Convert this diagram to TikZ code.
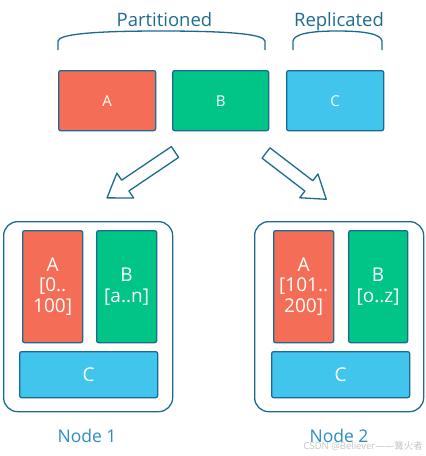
\documentclass[tikz,border=0pt]{standalone}
\usepackage{fontspec}
\setmainfont{Open Sans}
\newfontfamily\cjkfont{Noto Sans CJK SC}
\definecolor{cred}{HTML}{F46D56}
\definecolor{cgreen}{HTML}{00C587}
\definecolor{cblue}{HTML}{41C5EC}
\definecolor{cline}{HTML}{1A6B94}
\definecolor{ctitle}{HTML}{1E6C94}
\definecolor{cnode}{HTML}{2D8CC6}
\begin{document}
\begin{tikzpicture}[x=1pt,y=-1pt,
  part/.style={draw=cline, line width=1.3pt, rounded corners=2pt, anchor=north west,
    inner sep=0pt, text=white, align=center},
  toplbl/.style={font=\fontsize{15}{18}\selectfont},
  inlbl/.style={font=\fontsize{19}{20.5}\selectfont},
  nodebox/.style={draw=cline, line width=1.3pt, rounded corners=14pt, anchor=north west, inner sep=0pt},
  title/.style={text=ctitle, anchor=base, font=\fontsize{18.5}{20}\selectfont, inner sep=0pt},
  nodelbl/.style={text=cnode, anchor=base, font=\fontsize{17.5}{20}\selectfont, inner sep=0pt},
  brace/.style={draw=cline, line width=1.3pt},
  blockarrow/.style={draw=cline, line width=1.3pt, line join=round, fill=white}]
\useasboundingbox (0,0) rectangle (426,456);
\fill[white] (0,0) rectangle (426,456);

% titles
\node[title] (tpart) at (164.5,26) {Partitioned};
\node[title] (trepl) at (339,26) {Replicated};
% braces
\draw[brace] (58,50) -- (58,41) .. controls (59,34) and (95,31) .. (161,31)
  .. controls (228,31) and (264,34) .. (265,41) -- (265,50);
\draw[brace] (293,50) -- (293,41) .. controls (294,34) and (310,31) .. (337,31)
  .. controls (365,31) and (381,34) .. (382,41) -- (382,50);

% top row
\node[part, fill=cred, minimum width=97pt, minimum height=60pt, toplbl] (a0) at (58,70) {A};
\node[part, fill=cgreen, minimum width=96pt, minimum height=60pt, toplbl] (b0) at (172,70) {B};
\node[part, fill=cblue, minimum width=97pt, minimum height=60pt, toplbl] (c0) at (286,70) {C};

% arrows
\begin{scope}[shift={(175,152)}, rotate=214]
  \draw[blockarrow] (0,-6.5) -- (60,-6.5) -- (60,-15) -- (82,0) -- (60,15) -- (60,6.5) -- (0,6.5) -- cycle;
\end{scope}
\begin{scope}[shift={(266,153)}, rotate=-37.5]
  \draw[blockarrow] (0,-6.5) -- (54,-6.5) -- (54,-15) -- (76,0) -- (54,15) -- (54,6.5) -- (0,6.5) -- cycle;
\end{scope}

% node 1
\node[nodebox, minimum width=169pt, minimum height=190pt] (n1) at (3,221) {};
\node[part, fill=cred, minimum width=60pt, minimum height=112pt, inlbl] (a1) at (22,230) {A\\{}[0..\\100]};
\node[part, fill=cgreen, minimum width=60pt, minimum height=112pt, inlbl] (b1) at (96,230) {B\\{}[a..n]};
\node[part, fill=cblue, minimum width=138pt, minimum height=46pt, inlbl] (c1) at (19,351) {C};
\node[nodelbl] (l1) at (87,442) {Node 1};

% node 2
\node[nodebox, minimum width=169pt, minimum height=190pt] (n2) at (254,221) {};
\node[part, fill=cred, minimum width=60pt, minimum height=112pt, inlbl] (a2) at (273,230) {A\\{}[101..\\200]};
\node[part, fill=cgreen, minimum width=59pt, minimum height=112pt, inlbl] (b2) at (348,230) {B\\{}[o..z]};
\node[part, fill=cblue, minimum width=138pt, minimum height=46pt, inlbl] (c2) at (271,351) {C};
\node[nodelbl] (l2) at (339,442) {Node 2};

% watermark
\node[anchor=base east, inner sep=0pt, text=black!22, font=\fontsize{9.5}{11}\selectfont] (wm) at (423,449) {CSDN @Believer——{\cjkfont 篝火者}};
\end{tikzpicture}
\end{document}
